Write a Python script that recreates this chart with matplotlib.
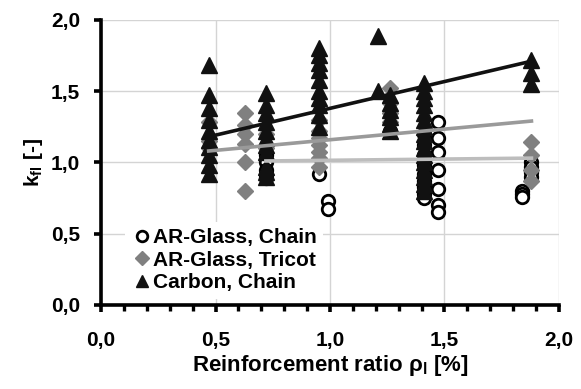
import numpy as np
import matplotlib
matplotlib.use('Agg')
import matplotlib.pyplot as plt
from matplotlib.ticker import MultipleLocator, FixedLocator

plt.rcParams['font.family'] = ['Liberation Sans', 'DejaVu Sans']
plt.rcParams['font.weight'] = 'bold'

# AR-Glass, Chain (open circles)
chain_x = [0.72] * 5 + [0.95] + [0.99] * 2 + [1.26] + [1.41] * 9 + [1.47] * 7 + [1.84] * 3 + [1.88] * 4
chain_y = [1.05, 1.00, 0.95, 0.92, 0.89,
           0.92,
           0.73, 0.67,
           1.22,
           1.20, 1.12, 1.05, 0.98, 0.92, 0.87, 0.83, 0.78, 0.75,
           1.28, 1.17, 1.07, 0.95, 0.81, 0.70, 0.65,
           0.80, 0.78, 0.76,
           1.00, 0.97, 0.93, 0.90]

# AR-Glass, Tricot (grey diamonds)
tricot_x = [0.47] * 3 + [0.63] * 6 + [0.72] * 2 + [0.95] * 7 + [1.26] * 4 + [1.88] * 4
tricot_y = [1.28, 1.15, 1.10,
            1.35, 1.26, 1.20, 1.13, 1.00, 0.80,
            1.20, 1.10,
            1.30, 1.22, 1.17, 1.12, 1.07, 1.03, 0.97,
            1.52, 1.42, 1.35, 1.28,
            1.14, 1.05, 0.95, 0.87]

# Carbon, Chain (black triangles)
carbon_x = [0.47] * 10 + [0.72] * 11 + [0.95] * 10 + [1.21] * 2 + [1.26] * 6 + [1.41] * 16 + [1.88] * 3
carbon_y = [1.68, 1.47, 1.38, 1.30, 1.22, 1.16, 1.11, 1.05, 0.98, 0.92,
            1.49, 1.40, 1.35, 1.28, 1.22, 1.17, 1.12, 1.07, 0.97, 0.93, 0.90,
            1.80, 1.75, 1.70, 1.65, 1.58, 1.50, 1.45, 1.40, 1.33, 1.25,
            1.89, 1.50,
            1.47, 1.42, 1.37, 1.32, 1.27, 1.22,
            1.56, 1.50, 1.45, 1.40, 1.35, 1.30, 1.25, 1.20, 1.15, 1.10,
            1.05, 1.00, 0.95, 0.90, 0.85, 0.80,
            1.72, 1.63, 1.55]

# trend lines (start / end)
trend_chain_x = [0.72, 1.88]
trend_chain_y = [1.01, 1.03]
trend_tricot_x = [0.47, 1.88]
trend_tricot_y = [1.08, 1.29]
trend_carbon_x = [0.47, 1.88]
trend_carbon_y = [1.18, 1.71]

tick_vals = [0.0, 0.5, 1.0, 1.5, 2.0]
tick_labels = ['0,0', '0,5', '1,0', '1,5', '2,0']

fig = plt.figure(figsize=(5.81, 3.89), dpi=100)
ax = fig.add_axes([0.174, 0.216, 0.788, 0.733])

ax.plot(chain_x, chain_y, 'o', ms=9, mfc='white', mec='black', mew=2,
        label='AR-Glass, Chain', zorder=3)
ax.plot(tricot_x, tricot_y, 'D', ms=8, mfc='#808080', mec='#808080',
        label='AR-Glass, Tricot', zorder=4)
ax.plot(carbon_x, carbon_y, '^', ms=11, mfc='#111111', mec='#111111',
        label='Carbon, Chain', zorder=5)

ax.plot(trend_chain_x, trend_chain_y, color='#bdbdbd', lw=2.6, zorder=6)
ax.plot(trend_tricot_x, trend_tricot_y, color='#9a9a9a', lw=2.6, zorder=6)
ax.plot(trend_carbon_x, trend_carbon_y, color='#111111', lw=2.6, zorder=7)

ax.set_xlim(0, 2)
ax.set_ylim(0, 2)
ax.xaxis.set_major_locator(FixedLocator(tick_vals))
ax.yaxis.set_major_locator(FixedLocator(tick_vals))
ax.set_xticklabels(tick_labels)
ax.set_yticklabels(tick_labels)
ax.xaxis.set_minor_locator(MultipleLocator(0.1))

ax.grid(True, color='#d4d4d4', lw=1)
ax.set_axisbelow(True)
for s in ['top', 'right']:
    ax.spines[s].set_visible(False)
for s in ['left', 'bottom']:
    ax.spines[s].set_linewidth(2.6)
ax.tick_params(axis='both', which='major', direction='out', length=5, width=2.6,
               labelsize=15)
ax.tick_params(axis='x', which='major', pad=14)
ax.tick_params(axis='y', which='major', pad=10)
ax.tick_params(axis='x', which='minor', direction='out', length=4, width=2.4)

ax.set_xlabel('Reinforcement ratio ρ$_\\mathregular{l}$ [%]', fontsize=16,
              fontweight='bold', labelpad=2)
ax.set_ylabel('k$_\\mathregular{fl}$ [-]', fontsize=15, fontweight='bold', labelpad=4)

leg = ax.legend(loc='lower left', bbox_to_anchor=(0.03, -0.014), frameon=True,
                fontsize=15, handletextpad=0.05, labelspacing=0.18, borderpad=0.3,
                handlelength=1.0, markerscale=0.85)
leg.get_frame().set_edgecolor('none')
leg.get_frame().set_facecolor('white')
leg.get_frame().set_alpha(1)
leg.set_zorder(10)

fig.savefig('out.png', dpi=100)
